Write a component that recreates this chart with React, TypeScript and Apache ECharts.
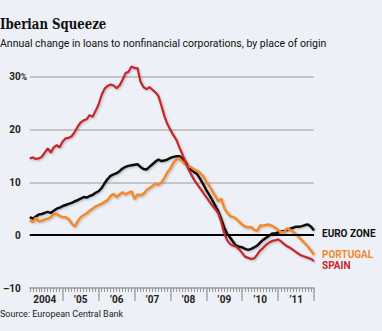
import React, { useEffect, useRef } from 'react';
import * as echarts from 'echarts';

// Monthly categories: Feb 2004 .. Jan 2012
const months: string[] = [];
for (let i = 0; i < 96; i++) {
  const m = (i + 1) % 12;
  const y = 2004 + Math.floor((i + 1) / 12);
  months.push(`${y}-${String(m + 1).padStart(2, '0')}`);
}

const yearLabels: Record<string, string> = {
  '2004': '2004', '2005': '\u201905', '2006': '\u201906', '2007': '\u201907',
  '2008': '\u201908', '2009': '\u201909', '2010': '\u201910', '2011': '\u201911',
};

const euroZone = [
  3.4, 3.1, 3.5, 3.9, 4.0, 4.2, 4.4, 4.2, 4.6, 5.0, 5.2, 5.5,
  5.7, 5.9, 6.1, 6.4, 6.6, 6.9, 7.2, 7.1, 7.4, 7.6, 8.0, 8.3,
  8.9, 9.8, 10.6, 11.2, 11.5, 11.7, 12.1, 12.6, 12.9, 13.1, 13.2, 13.3,
  13.4, 12.9, 12.5, 12.4, 12.9, 13.4, 13.9, 14.3, 14.0, 14.1, 14.3, 14.6,
  14.8, 14.9, 14.9, 14.5, 13.9, 12.9, 12.3, 11.9, 11.5, 10.6, 9.6, 8.5,
  7.6, 6.6, 5.6, 4.5, 3.0, 1.4, 0.2, -0.5, -1.3, -2.0, -2.2, -2.3,
  -2.6, -2.8, -2.6, -2.3, -2.0, -1.4, -0.9, -0.5, -0.1, 0.3, 0.3, 0.5,
  0.7, 0.8, 1.0, 1.2, 1.4, 1.6, 1.6, 1.7, 1.9, 2.0, 1.6, 0.9,
];

const portugal = [
  2.8, 2.5, 3.3, 2.6, 2.7, 3.0, 3.1, 3.4, 4.0, 4.0, 3.6, 3.4,
  3.4, 3.0, 2.2, 1.6, 2.6, 3.4, 3.8, 4.1, 4.6, 5.0, 5.4, 5.7,
  5.9, 6.3, 6.6, 7.4, 7.8, 7.2, 7.7, 8.1, 7.7, 8.0, 8.3, 6.8,
  7.7, 7.5, 7.8, 8.5, 8.9, 9.3, 9.7, 9.5, 10.0, 10.8, 11.9, 12.6,
  13.7, 14.3, 14.5, 13.9, 13.4, 13.0, 12.8, 12.4, 12.2, 11.7, 11.1, 10.1,
  9.3, 8.3, 7.4, 6.4, 6.9, 5.1, 4.2, 3.6, 3.4, 3.1, 2.5, 2.0,
  1.6, 1.5, 1.5, 1.0, 0.8, 1.8, 1.8, 1.9, 2.0, 1.7, 1.4, 1.0,
  0.5, 0.6, 1.3, 1.0, 0.6, 0.2, -0.4, -1.0, -1.6, -2.2, -2.9, -3.7,
];

const spain = [
  14.5, 14.7, 14.4, 14.5, 14.8, 15.6, 16.4, 15.6, 16.6, 17.0, 16.6, 17.7,
  18.3, 18.4, 18.7, 19.5, 20.5, 21.3, 21.7, 21.9, 22.7, 22.4, 23.5, 24.7,
  26.5, 27.7, 28.2, 28.5, 28.3, 27.8, 28.3, 29.4, 30.6, 30.9, 31.9, 31.6,
  31.6, 29.0, 28.0, 27.6, 28.0, 27.5, 27.0, 26.3, 24.5, 22.5, 21.0, 19.9,
  18.9, 18.0, 16.6, 15.3, 13.9, 12.5, 11.4, 10.4, 9.6, 8.8, 8.0, 7.2,
  6.4, 5.6, 4.9, 4.1, 2.5, 0.3, -1.0, -1.7, -2.0, -2.2, -2.7, -3.4,
  -4.1, -4.3, -4.5, -4.4, -3.7, -2.9, -2.4, -1.8, -1.4, -1.1, -1.0, -0.8,
  -1.2, -1.7, -2.1, -2.4, -2.8, -3.2, -3.6, -3.9, -4.1, -4.3, -4.5, -4.9,
];

const BG = '#edf0f6';
const BLACK = '#111111';
const ORANGE = '#f5882b';
const RED = '#c6262c';
const SANS = 'Roboto, "Noto Sans", sans-serif';

export default function App() {
  const ref = useRef<HTMLDivElement>(null);
  useEffect(() => {
    document.body.style.margin = '0';
    if (!ref.current) return;
    const chart = echarts.init(ref.current, null, { renderer: 'svg' });
    const shadow = { shadowColor: 'rgba(0,0,0,0.25)', shadowBlur: 2, shadowOffsetX: 1, shadowOffsetY: 1 };
    const lab = { fontFamily: SANS, fontSize: 10, fontWeight: 'bold', color: '#222' };
    chart.setOption({
      animation: false,
      backgroundColor: BG,
      grid: { left: 20, right: 68, top: 76.5, bottom: 43, containLabel: false },
      xAxis: [
        {
          type: 'category', data: months, boundaryGap: false, position: 'bottom',
          axisLine: { show: true, onZero: false, lineStyle: { color: '#a8a8a8', width: 1.5 } },
          axisTick: { show: true, interval: 0, length: 4, lineStyle: { color: '#999999', width: 1 } },
          axisLabel: { show: false },
          splitLine: { show: false },
        },
        {
          type: 'category', data: months, boundaryGap: false, position: 'bottom',
          axisLine: { show: false, onZero: false },
          axisTick: {
            show: true, length: 13, lineStyle: { color: '#a8a8a8', width: 1.5 },
            interval: (idx: number) => (idx + 1) % 12 === 0,
          },
          axisLabel: {
            show: true, margin: 6,
            interval: (idx: number) => (idx + 1) % 12 === 6,
            formatter: (v: string) => yearLabels[v.slice(0, 4)] || '',
            ...lab,
          },
          splitLine: { show: false },
        },
      ],
      yAxis: {
        type: 'value', min: -10, max: 30, interval: 10,
        axisLine: { show: false }, axisTick: { show: false },
        splitLine: { show: true, lineStyle: { color: '#b8b8b8', width: 1.5 } },
        axisLabel: {
          margin: 3, ...lab,
          formatter: (v: number) => {
            const s = v < 0 ? '\u2013' + Math.abs(v) : String(v);
            return v === 30 ? `${s}{p|%}` : `${s}{p| }`;
          },
          rich: {
            p: { width: 6, align: 'left', fontFamily: SANS, fontSize: 8.5, fontWeight: 'bold', color: '#222' },
          },
        },
      },
      series: [
        {
          type: 'line', data: [], z: 1, silent: true,
          markLine: {
            silent: true, symbol: ['none', 'none'], label: { show: false },
            lineStyle: { color: '#000', width: 2, type: 'solid' },
            data: [{ yAxis: 0 }],
          },
        },
        {
          name: 'EURO ZONE', type: 'line', data: euroZone, showSymbol: false, clip: false, z: 3,
          lineStyle: { color: BLACK, width: 2.5, ...shadow },
        },
        {
          name: 'PORTUGAL', type: 'line', data: portugal, showSymbol: false, clip: false, z: 4,
          lineStyle: { color: ORANGE, width: 2.5, ...shadow },
        },
        {
          name: 'SPAIN', type: 'line', data: spain, showSymbol: false, clip: false, z: 5,
          lineStyle: { color: RED, width: 2.2, ...shadow },
        },
      ],
      graphic: [
        {
          type: 'text', x: 0, y: 24, scaleX: 0.84,
          style: { text: 'Iberian Squeeze', fontFamily: '"DejaVu Serif", serif', fontWeight: 'bold', fontSize: 14, fill: '#111', verticalAlign: 'middle' },
        },
        {
          type: 'text', x: 0, y: 43,
          style: { text: 'Annual change in loans to nonfinancial corporations, by place of origin', fontFamily: SANS, fontSize: 10.5, fill: '#111', verticalAlign: 'middle' },
        },
        {
          type: 'text', x: 0, y: 314,
          style: { text: 'Source: European Central Bank', fontFamily: SANS, fontSize: 9, fill: '#222', verticalAlign: 'middle' },
        },
        {
          type: 'text', x: 322, y: 233,
          style: { text: 'EURO ZONE', fontFamily: SANS, fontSize: 10, lineHeight: 10, fontWeight: 'bold', fill: BLACK, verticalAlign: 'middle' },
        },
        {
          type: 'text', x: 322, y: 254,
          style: { text: 'PORTUGAL', fontFamily: SANS, fontSize: 10, lineHeight: 10, fontWeight: 'bold', fill: ORANGE, verticalAlign: 'middle' },
        },
        {
          type: 'text', x: 322, y: 265.5,
          style: { text: 'SPAIN', fontFamily: SANS, fontSize: 10, lineHeight: 10, fontWeight: 'bold', fill: RED, verticalAlign: 'middle' },
        },
      ],
    });
    return () => chart.dispose();
  }, []);
  return <div ref={ref} style={{ width: 382, height: 331 }} />;
}
